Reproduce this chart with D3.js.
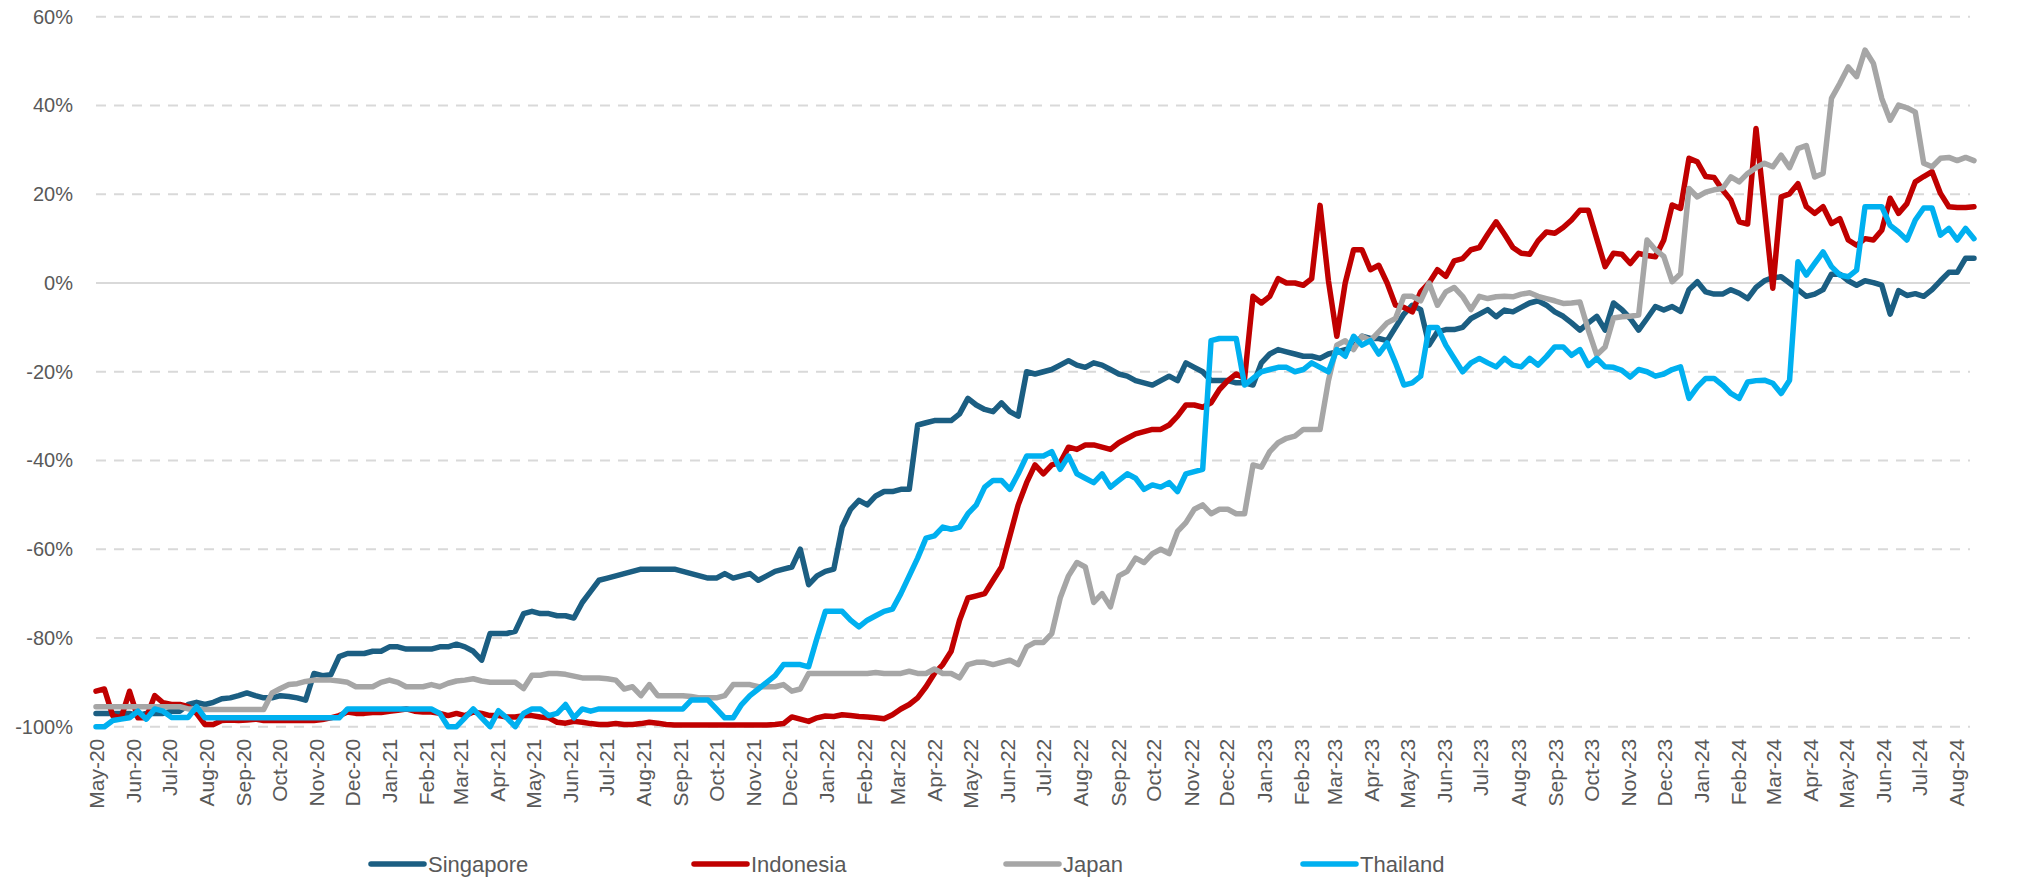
<!DOCTYPE html>
<html>
<head>
<meta charset="utf-8">
<script src="https://cdn.jsdelivr.net/npm/d3@7"></script>
<style>
body { margin: 0; background: #fff; }
svg { display: block; font-family: 'Liberation Sans', Arial, sans-serif; }
.axis text { fill: #595959; font-size: 20px; }
.axis--x text { font-size: 21px; }
.grid line { stroke: #d9d9d9; stroke-width: 2; stroke-dasharray: 10 8; }
.grid line.zero { stroke-dasharray: none; }
.series { fill: none; stroke-width: 5.5; stroke-linejoin: round; stroke-linecap: round; }
.legend text { font-family: 'Liberation Sans Narrow', 'Arial Narrow', sans-serif; font-size: 22px; fill: #595959; }
</style>
</head>
<body>
<svg id="chart"></svg>
<script>
// weekly observations, first week starting 1 May 2020
const firstWeek = '2020-05-01';

const singapore = [
  -97, -97, -97, -97, -97, -97.5, -97, -97, -97, -96.5,
  -96.5, -95, -94.5, -95, -94.5, -93.7, -93.5, -93, -92.4, -93,
  -93.5, -93.5, -93, -93.2, -93.5, -94, -88, -88.5, -88.3, -84.2,
  -83.5, -83.5, -83.5, -83, -83, -82, -82, -82.5, -82.5, -82.5,
  -82.5, -82, -82, -81.4, -82, -83, -85, -79, -79, -79,
  -78.5, -74.5, -74, -74.5, -74.5, -75, -75, -75.5, -72, -69.5,
  -67, -66.5, -66, -65.5, -65, -64.5, -64.5, -64.5, -64.5, -64.5,
  -65, -65.5, -66, -66.5, -66.5, -65.5, -66.5, -66, -65.5, -67,
  -66, -65, -64.5, -64, -60, -68, -66, -65, -64.5, -55,
  -51, -49, -50, -48, -47, -47, -46.5, -46.5, -32, -31.5,
  -31, -31, -31, -29.5, -26, -27.5, -28.5, -29, -27, -29,
  -30, -20, -20.5, -20, -19.5, -18.5, -17.5, -18.5, -19, -18,
  -18.5, -19.5, -20.5, -21, -22, -22.5, -23, -22, -21, -22,
  -18, -19, -20, -22, -22, -22, -22.5, -22.5, -23, -18,
  -16, -15, -15.5, -16, -16.5, -16.5, -17, -16, -15.5, -15,
  -14.5, -12, -12.5, -12.5, -13, -10, -7, -5, -6, -14,
  -11, -10.5, -10.5, -10, -8, -7, -6, -7.6, -6.1, -6.5,
  -5.5, -4.5, -4, -5, -6.5, -7.5, -9, -10.6, -9, -7.5,
  -10.6, -4.5, -6, -8, -10.6, -8, -5.3, -6.1, -5.3, -6.4,
  -1.5, 0.3, -2, -2.5, -2.5, -1.5, -2.3, -3.5, -1, 0.5,
  1.2, 1.4, 0, -1.5, -3, -2.5, -1.5, 2, 2, 0.5,
  -0.5, 0.5, 0.1, -0.5, -7, -1.7, -2.8, -2.4, -3, -1.5,
  0.5, 2.4, 2.4, 5.6, 5.6
];

const indonesia = [
  -92, -91.5, -97.5, -98, -92, -98, -98, -93, -94.6, -95,
  -95, -95.5, -97, -99.5, -99.5, -98.6, -98.5, -98.6, -98.5, -98.3,
  -98.6, -98.6, -98.6, -98.6, -98.6, -98.6, -98.6, -98.4, -98, -97.5,
  -96.7, -97, -97, -96.8, -96.8, -96.5, -96.3, -96, -96.5, -96.7,
  -96.7, -97, -97.5, -97, -97.5, -96.7, -97, -97.5, -97.5, -97.8,
  -97.8, -97.5, -97.5, -97.8, -98, -99, -99.2, -98.8, -99, -99.3,
  -99.5, -99.5, -99.3, -99.5, -99.5, -99.3, -99, -99.2, -99.5, -99.6,
  -99.6, -99.6, -99.6, -99.6, -99.6, -99.6, -99.6, -99.6, -99.6, -99.6,
  -99.6, -99.5, -99.3, -97.8, -98.3, -98.8, -98, -97.6, -97.7, -97.3,
  -97.5, -97.7, -97.8, -98, -98.2, -97.3, -96, -95, -93.5, -91,
  -88, -86, -83, -76, -71, -70.5, -70, -67, -64, -57,
  -50, -45, -41, -43, -41, -40.5, -37, -37.5, -36.5, -36.5,
  -37, -37.5, -36, -35, -34, -33.5, -33, -33, -32, -30,
  -27.5, -27.5, -28, -27, -24, -22, -20.5, -21.5, -3, -4.5,
  -3, 1, 0, 0, -0.5, 1, 17.5, 0.5, -12, 0,
  7.5, 7.5, 3, 4, 0, -5, -5.5, -6.5, -2, 0,
  3, 1.5, 5, 5.5, 7.5, 8, 11, 13.8, 11, 8,
  6.7, 6.5, 9.5, 11.5, 11.2, 12.5, 14.2, 16.4, 16.4, 10,
  3.7, 6.7, 6.5, 4.4, 6.7, 6.2, 5.9, 9.7, 17.6, 16.8,
  28.1, 27.3, 24, 23.8, 21, 18.7, 13.8, 13.3, 34.8, 17,
  -1.2, 19.4, 20.1, 22.4, 17.2, 15.7, 17.2, 13.4, 14.5, 9.7,
  8.5, 10, 9.7, 11.9, 19.1, 15.7, 17.9, 22.8, 24, 25.1,
  20.2, 17.2, 17, 17, 17.2
];

const japan = [
  -95.5, -95.5, -95.5, -95.5, -95.5, -95.5, -95.5, -95.5, -95.5, -95.5,
  -95.5, -96, -96, -96.1, -96.1, -96.1, -96.1, -96.1, -96.1, -96.1,
  -96.1, -92.4, -91.4, -90.5, -90.3, -89.8, -89.5, -89.5, -89.5, -89.7,
  -90, -91, -91, -91, -90, -89.5, -90, -91, -91, -91,
  -90.5, -91, -90.2, -89.7, -89.5, -89.2, -89.7, -90, -90, -90,
  -90, -91.4, -88.4, -88.4, -88, -88, -88.2, -88.6, -89, -89,
  -89, -89.2, -89.5, -91.5, -91, -93, -90.5, -93, -93, -93,
  -93, -93.2, -93.5, -93.5, -93.5, -93, -90.5, -90.5, -90.5, -91,
  -91, -91, -90.5, -92, -91.5, -88, -88, -88, -88, -88,
  -88, -88, -88, -87.8, -88, -88, -88, -87.5, -88, -88,
  -87, -88, -88, -89, -86, -85.5, -85.5, -86, -85.5, -85,
  -86, -82, -81, -81, -79, -71, -66, -63, -64, -72,
  -70, -73, -66, -65, -62, -63, -61, -60, -61, -56,
  -54, -51, -50, -52, -51, -51, -52, -52, -41, -41.5,
  -38, -36, -35, -34.5, -33, -33, -33, -22, -14, -13,
  -15, -12, -13, -11, -9, -8, -3, -3, -4, 0,
  -5, -2, -1, -3, -6, -3, -3.5, -3.1, -3, -3.1,
  -2.5, -2.2, -3, -3.5, -4, -4.6, -4.5, -4.3, -10.6, -16.2,
  -14.4, -7.9, -7.6, -7.5, -7.2, 9.7, 7.5, 6, 0.3, 2.1,
  21.3, 19.4, 20.5, 21, 21.3, 23.9, 22.8, 24.7, 26, 27,
  26.2, 28.8, 26, 30.3, 31, 23.9, 24.7, 41.6, 45, 48.7,
  46.5, 52.5, 49.5, 41.6, 36.7, 40.1, 39.5, 38.5, 27, 26.2,
  28.1, 28.3, 27.6, 28.3, 27.6
];

const thailand = [
  -100, -100, -98.6, -98.3, -98, -96.5, -98.3, -96, -96.5, -97.9,
  -97.9, -97.9, -95.5, -98, -98, -98, -98, -98, -98, -98,
  -98, -98, -98, -98, -98, -98, -98, -98, -98, -98,
  -96, -96, -96, -96, -96, -96, -96, -96, -96, -96,
  -96, -97, -100, -100, -98, -96, -98, -100, -96.4, -98,
  -100, -97, -96, -96, -97.5, -97, -95, -98, -96, -96.5,
  -96, -96, -96, -96, -96, -96, -96, -96, -96, -96,
  -96, -94, -94, -94, -96, -98, -98, -95, -93, -91.5,
  -90, -88.5, -86, -86, -86, -86.5, -80, -74, -74, -74,
  -76, -77.5, -76, -75, -74, -73.5, -70, -66, -62, -57.5,
  -57, -55, -55.5, -55, -52, -50, -46, -44.5, -44.5, -46.5,
  -43, -39, -39, -39, -38, -42, -39, -43, -44, -45,
  -43, -46, -44.5, -43, -44, -46.5, -45.5, -46, -45, -47,
  -43, -42.5, -42, -13, -12.5, -12.5, -12.5, -23, -21.5, -20,
  -19.5, -19, -19, -20, -19.5, -18, -19, -20, -15, -16.5,
  -12, -14, -13, -16, -13.5, -18, -23, -22.5, -21, -10,
  -10, -14, -17, -20, -18, -17, -18, -18.9, -17, -18.5,
  -18.9, -17, -18.5, -16.6, -14.4, -14.4, -16.3, -15, -18.6, -17,
  -18.9, -19, -19.7, -21.2, -19.5, -20, -21, -20.5, -19.5, -18.9,
  -26, -23.4, -21.5, -21.5, -23, -24.9, -26, -22.3, -22, -21.9,
  -22.6, -24.9, -21.9, 4.8, 1.8, 4.4, 7, 3.7, 1.8, 1.4,
  2.9, 17.2, 17.2, 17.2, 13, 11.5, 9.7, 14.2, 16.9, 16.9,
  10.8, 12.3, 9.7, 12.3, 10
];

const seriesNames = ['Singapore', 'Indonesia', 'Japan', 'Thailand'];
const seriesColors = ['#1b5e82', '#c00000', '#a6a6a6', '#00b0f0'];

const monthLabels = [
  'May-20', 'Jun-20', 'Jul-20', 'Aug-20', 'Sep-20', 'Oct-20', 'Nov-20', 'Dec-20',
  'Jan-21', 'Feb-21', 'Mar-21', 'Apr-21', 'May-21', 'Jun-21', 'Jul-21', 'Aug-21',
  'Sep-21', 'Oct-21', 'Nov-21', 'Dec-21', 'Jan-22', 'Feb-22', 'Mar-22', 'Apr-22',
  'May-22', 'Jun-22', 'Jul-22', 'Aug-22', 'Sep-22', 'Oct-22', 'Nov-22', 'Dec-22',
  'Jan-23', 'Feb-23', 'Mar-23', 'Apr-23', 'May-23', 'Jun-23', 'Jul-23', 'Aug-23',
  'Sep-23', 'Oct-23', 'Nov-23', 'Dec-23', 'Jan-24', 'Feb-24', 'Mar-24', 'Apr-24',
  'May-24', 'Jun-24', 'Jul-24', 'Aug-24'
];

const yTicks = [-100, -80, -60, -40, -20, 0, 20, 40, 60];

const width = 2027;
const height = 878;
const plot = { left: 96, right: 1974, top: 16.8, bottom: 726.7 };
const legendX = [371, 694, 1006, 1303];
const legendY = 864;

const svg = d3.select('#chart')
    .attr('width', width)
    .attr('height', height);

const parseMonth = d3.timeParse('%b-%y');
const start = d3.timeParse('%Y-%m-%d')(firstWeek);
const weeks = singapore.map((d, i) => d3.timeDay.offset(start, 7 * i));

const xScale = d3.scaleTime()
    .domain([weeks[0], weeks[weeks.length - 1]])
    .range([plot.left, plot.right]);

const yScale = d3.scaleLinear()
    .domain([-100, 60])
    .range([plot.bottom, plot.top]);

// gridlines
svg.append('g').attr('class', 'grid')
    .selectAll('line').data(yTicks)
  .enter().append('line')
    .attr('class', d => d === 0 ? 'zero' : null)
    .attr('x1', plot.left)
    .attr('x2', plot.right - 4)
    .attr('y1', d => yScale(d))
    .attr('y2', d => yScale(d));

const yAxis = d3.axisLeft(yScale)
    .tickValues(yTicks)
    .tickFormat(d => d + '%')
    .tickSize(0)
    .tickPadding(23);

svg.append('g').attr('class', 'axis axis--y')
    .attr('transform', `translate(${plot.left},0)`)
    .call(yAxis)
    .call(g => g.select('.domain').remove());

const xAxis = d3.axisBottom(xScale)
    .tickValues(monthLabels.map(parseMonth))
    .tickFormat(d3.timeFormat('%b-%y'))
    .tickSize(0);

svg.append('g').attr('class', 'axis axis--x')
    .attr('transform', `translate(0,${plot.bottom})`)
    .call(xAxis)
    .call(g => g.select('.domain').remove())
  .selectAll('text')
    .attr('transform', 'rotate(-90)')
    .attr('text-anchor', 'end')
    .attr('x', -12)
    .attr('y', 0)
    .attr('dy', '0.35em');

const line = d3.line()
    .x((d, i) => xScale(weeks[i]))
    .y(d => yScale(d));

const allSeries = [singapore, indonesia, japan, thailand];

svg.append('g').attr('class', 'lines')
    .selectAll('path').data(allSeries)
  .enter().append('path')
    .attr('class', 'series')
    .attr('stroke', (d, i) => seriesColors[i])
    .attr('d', line);

const legendItem = svg.append('g').attr('class', 'legend')
    .selectAll('g').data(seriesNames)
  .enter().append('g')
    .attr('transform', (d, i) => `translate(${legendX[i]},${legendY})`);

legendItem.append('line')
    .attr('x1', 0)
    .attr('x2', 53)
    .attr('stroke', (d, i) => seriesColors[i])
    .attr('stroke-width', 5.5)
    .attr('stroke-linecap', 'round');

legendItem.append('text')
    .attr('x', 57)
    .attr('dy', '0.35em')
    .text(d => d);
</script>
</body>
</html>
